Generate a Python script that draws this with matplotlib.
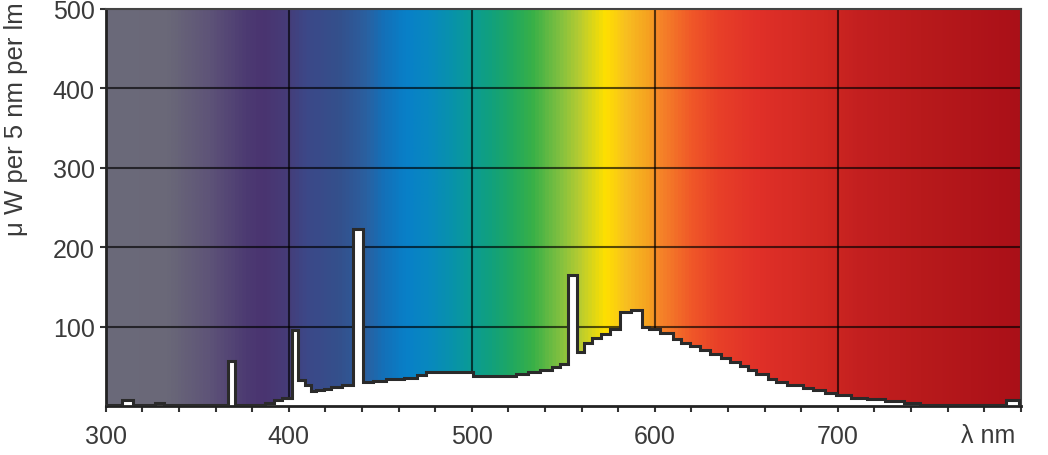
import numpy as np
import matplotlib
matplotlib.use('Agg')
import matplotlib.pyplot as plt
from matplotlib.colors import LinearSegmentedColormap
from matplotlib.ticker import MultipleLocator

plt.rcParams['font.family'] = ['Liberation Sans', 'DejaVu Sans']

# step edges (nm) and power levels (uW per 5 nm per lm)
edges = [300, 309, 315, 327, 332, 367, 370.5, 387, 392, 396, 401.5, 405, 409, 412,
         415, 419, 423, 429, 435, 440.5, 446, 453, 463, 470, 475, 500.5, 524, 530.5,
         537.5, 544, 548, 552.5, 557.5, 561.5, 565.5, 570.5, 575.5, 581, 587, 593,
         597, 603, 610, 614.5, 619, 624.5, 630, 636, 641, 646.5, 651, 655.5, 662,
         666.5, 672, 681, 686.5, 693, 699, 707, 716, 726, 736, 745, 792, 799, 800]
power = [2, 7.5, 2, 4.5, 1.5, 57, 1, 4.5, 7.5, 10, 96, 33, 26.5, 19,
         20.5, 22, 24, 26.5, 223, 30.5, 32, 34, 36, 39, 43, 38, 40,
         42.5, 45, 49, 53, 165, 68, 80, 86, 91, 97, 118, 121,
         99, 97, 92, 85, 80, 75.5, 71, 65.5, 60, 56, 51, 45, 40,
         34, 30, 26.5, 23, 20, 17, 14, 10, 8.5, 6, 4.5, 1, 7.5, 1]

# background spectrum colour stops
stop_nm = [300, 333, 355, 376, 385, 398, 409, 427, 442, 451, 464, 475, 486, 498,
           509, 522, 533, 548, 559, 573, 584, 597, 602, 620, 635, 657, 693, 711,
           747, 800]
stop_col = ['#6b6a7a', '#6a6878', '#5e5478', '#4c3a72', '#4a3470', '#463c78',
            '#3c4888', '#34508c', '#2a60a0', '#1470b8', '#0880c8', '#0888c0',
            '#0890b0', '#0a9a98', '#10a080', '#20a860', '#38b048', '#80c040',
            '#b8cc30', '#ffe000', '#f8c020', '#f5a020', '#f68828', '#f05828',
            '#e84028', '#e03028', '#d02822', '#c42020', '#b81a1c', '#aa1018']

fig = plt.figure(figsize=(10.48, 4.56), dpi=100)
ax = fig.add_axes([0.101, 0.107, 0.873, 0.872])

cmap = LinearSegmentedColormap.from_list(
    'spec', [((n - 300) / 500, c) for n, c in zip(stop_nm, stop_col)])
grad = np.linspace(0, 1, 1000).reshape(1, -1)
ax.imshow(grad, cmap=cmap, aspect='auto', extent=[300, 800, 0, 500],
          origin='lower', zorder=0, interpolation='bilinear')

for x in [400, 500, 600, 700]:
    ax.axvline(x, color='black', alpha=0.65, linewidth=1.5, zorder=1)
for y in [100, 200, 300, 400]:
    ax.axhline(y, color='black', alpha=0.65, linewidth=1.5, zorder=1)

ax.stairs(power, edges, fill=True, facecolor='white', zorder=2)
ax.stairs(power, edges, fill=False, edgecolor='#2a2a2a', linewidth=2.2, zorder=3)

ax.set_xlim(300, 800)
ax.set_ylim(0, 500)
ax.set_xticks([300, 400, 500, 600, 700])
ax.xaxis.set_minor_locator(MultipleLocator(20))
ax.set_yticks([100, 200, 300, 400, 500])
ax.tick_params(axis='both', which='both', direction='out', length=4, width=1.5,
               color='#333333', labelcolor='#3a3a3a', labelsize=18)
ax.tick_params(axis='x', which='major', pad=9)
ax.tick_params(axis='y', pad=4)

for side in ['left', 'bottom']:
    ax.spines[side].set_linewidth(2)
    ax.spines[side].set_color('#222222')
for side in ['top', 'right']:
    ax.spines[side].set_linewidth(1.5)
    ax.spines[side].set_color('#444444')

ax.annotate('λ nm', xy=(782, 0), xycoords=ax.get_xaxis_transform(),
            xytext=(0, -12), textcoords='offset points', ha='center', va='top',
            fontsize=18, color='#3a3a3a')

fig.text(0.004, 0.995, 'μ W per 5 nm per lm', rotation=90, ha='left', va='top',
         fontsize=18.5, color='#3a3a3a')

fig.savefig('out.png', dpi=100)
